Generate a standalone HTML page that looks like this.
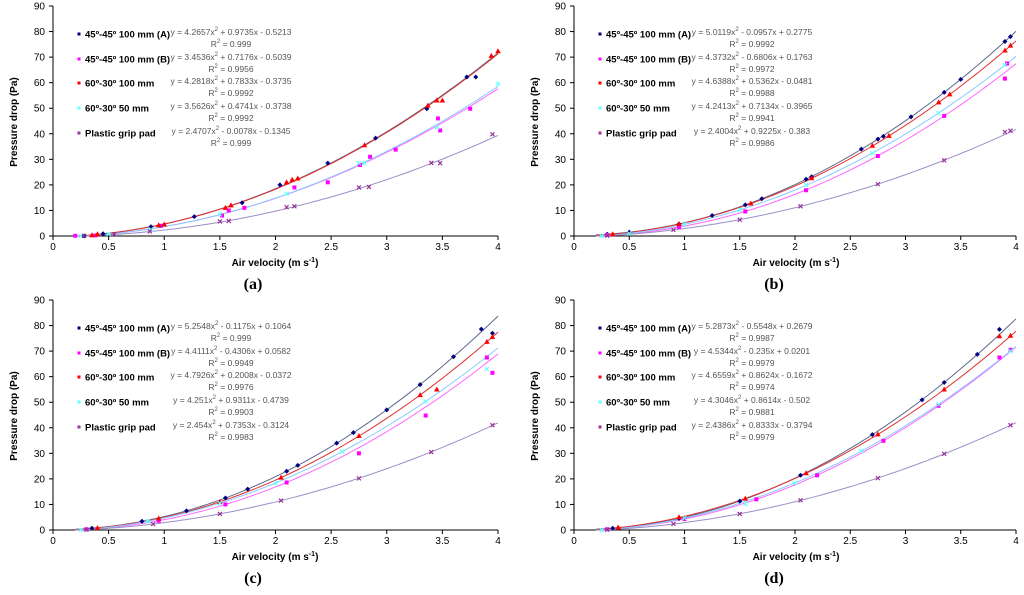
<!DOCTYPE html>
<html><head><meta charset="utf-8"><style>
body{margin:0;background:#fff;width:1024px;height:590px;overflow:hidden}
svg text{font-family:"Liberation Sans",Arial,sans-serif}
</style></head><body>
<svg id="c" width="1024" height="590" xmlns="http://www.w3.org/2000/svg"></svg>
<script>
const seriesNames=["45º-45º 100 mm (A)","45º-45º 100 mm (B)","60º-30º 100 mm","60º-30º 50 mm","Plastic grip pad"];
const xTicks=[0,0.5,1,1.5,2,2.5,3,3.5,4];
const yTicks=[0,10,20,30,40,50,60,70,80,90];
const captions=["(a)","(b)","(c)","(d)"];
const coefA=[[4.2657,0.9735,-0.5213],[3.4536,0.7176,-0.5039],[4.2818,0.7833,-0.3735],[3.5626,0.4741,-0.3738],[2.4707,-0.0078,-0.1345]];
const coefB=[[5.0119,-0.0957,0.2775],[4.3732,-0.6806,0.1763],[4.6388,0.5362,-0.0481],[4.2413,0.7134,-0.3965],[2.4004,0.9225,-0.383]];
const coefC=[[5.2548,-0.1175,0.1064],[4.4111,-0.4306,0.0582],[4.7926,0.2008,-0.0372],[4.251,0.9311,-0.4739],[2.454,0.7353,-0.3124]];
const coefD=[[5.2873,-0.5548,0.2679],[4.5344,-0.235,0.0201],[4.6559,0.8624,-0.1672],[4.3046,0.8614,-0.502],[2.4386,0.8333,-0.3794]];
const r2A=["0.999","0.9956","0.9992","0.9992","0.999"];
const r2B=["0.9992","0.9972","0.9988","0.9941","0.9986"];
const r2C=["0.999","0.9949","0.9976","0.9903","0.9983"];
const r2D=["0.9987","0.9979","0.9974","0.9881","0.9979"];
const aX=[[0.28,0.45,0.88,1.27,1.7,2.04,2.47,2.9,3.36,3.72,3.8],[0.2,0.38,0.97,1.52,1.58,1.72,2.17,2.47,2.76,2.85,3.08,3.46,3.48,3.75],[0.35,0.4,0.95,1.0,1.55,1.6,2.1,2.15,2.2,2.8,3.37,3.45,3.5,3.94,4.0],[0.25,0.5,0.88,1.5,2.1,2.75,2.8,3.45,4.0],[0.28,0.55,0.87,1.5,1.58,2.1,2.17,2.75,2.84,3.4,3.48,3.95]];
const aY=[[0,0.9,3.6,7.6,13,20,28.5,38.3,49.8,62.2,62.2],[0.1,0.2,4,8,10,11,19,21,27.8,31,33.8,46,41.3,49.8],[0.3,0.7,4.2,4.5,11,12,21,22,22.5,35.5,51,53,53,70.5,72.3],[0,0.8,2.5,8.5,16.5,28.5,28.5,42.5,59.5],[0.1,0.7,1.8,5.7,5.9,11.3,11.6,19,19.2,28.6,28.5,39.8]];
const bX=[[0.3,0.5,0.95,1.25,1.55,1.7,2.1,2.15,2.6,2.75,2.8,3.05,3.35,3.5,3.9,3.95],[0.3,0.95,1.55,2.1,2.75,3.35,3.9,3.92],[0.35,0.95,1.6,2.15,2.7,2.85,3.3,3.4,3.9,3.95],[0.25,0.5,1.0,1.5,2.1,2.7,3.3,3.9],[0.3,0.9,1.5,2.05,2.75,3.35,3.9,3.95]];
const bY=[[0.7,1.5,4.7,8,12.2,14.6,22.2,23.2,34,37.9,39,46.6,56.2,61.3,76.1,78],[0.4,3.5,9.6,17.9,31.3,47,61.6,67.5],[0.7,4.7,12.7,22.6,35.3,39.2,52.3,55.4,72.6,74.5],[0,1,4.6,10.2,20,32.4,48.1,66.9],[0.1,2.4,6.4,11.6,20.3,29.6,40.7,41.2]];
const cX=[[0.35,0.8,1.2,1.55,1.75,2.1,2.2,2.55,2.7,3.0,3.3,3.6,3.85,3.95],[0.3,0.95,1.55,2.1,2.75,3.35,3.9,3.95],[0.4,0.95,1.5,2.05,2.75,3.3,3.45,3.9,3.95],[0.25,0.85,1.5,2.0,2.6,3.35,3.9],[0.3,0.9,1.5,2.05,2.75,3.4,3.95]];
const cY=[[0.7,3.4,7.5,12.5,16,23,25.3,34,38.1,47,56.9,67.8,78.6,77],[0.3,3.6,10,18.6,30,44.8,67.5,61.5],[0.8,4.5,11,20.5,36.8,52.8,55,73.6,75.5],[0,3.4,10.5,18.4,30.7,50.3,63],[0.1,2.3,6.3,11.5,20.2,30.5,41]];
const dX=[[0.35,0.95,1.5,2.05,2.7,3.15,3.35,3.65,3.85],[0.3,1.0,1.65,2.2,2.8,3.3,3.85,3.95],[0.4,0.95,1.55,2.1,2.75,3.35,3.85,3.95],[0.25,1.0,1.55,2.0,2.6,3.3,3.95],[0.3,0.9,1.5,2.05,2.75,3.35,3.95]];
const dY=[[0.7,4.5,11.3,21.4,37.3,50.9,57.7,68.7,78.5],[0.3,4.3,12,21.4,34.9,48.6,67.5,70.5],[1,5,12.3,22.2,37.4,55,75.8,76],[0,4.7,10.2,18.4,31,49.2,70],[0.1,2.4,6.3,11.6,20.3,29.8,41]];

const panels=[
 {ox:0,oy:0,x0:53,y0:236,coef:coefA,r2:r2A,X:aX,Y:aY},
 {ox:521,oy:0,x0:574,y0:236,coef:coefB,r2:r2B,X:bX,Y:bY},
 {ox:0,oy:294,x0:53,y0:530,coef:coefC,r2:r2C,X:cX,Y:cY},
 {ox:521,oy:294,x0:574,y0:530,coef:coefD,r2:r2D,X:dX,Y:dY}];
const markColors=["#000080","#ff00ff","#ff0000","#66ffff","#993399"];
const lineColors=["#5a6a8a","#ff66ff","#e03030","#88ccff","#9b8fc8"];
const NS="http://www.w3.org/2000/svg";
const svg=document.getElementById('c');
function el(t,a,p){const e=document.createElementNS(NS,t);for(const k in a)e.setAttribute(k,a[k]);(p||svg).appendChild(e);return e;}
function fmt(v){return (Math.abs(v)).toString();}
panels.forEach((P,pi)=>{
 const g=el('g',{});
 
 
 const W=(P.ox?1016:498)-P.x0, H=P.y0-(P.oy+6);
 const sx=v=>P.x0+v/4*W, sy=v=>P.y0-v/90*H;
 const ax=el('path',{d:`M${P.x0},${P.oy+6}V${P.y0}H${sx(4)}`,stroke:'#000',fill:'none','stroke-width':1},g);
 
 
 yTicks.forEach(t=>{el('line',{x1:P.x0-4,x2:P.x0,y1:sy(t),y2:sy(t),stroke:'#000'},g);
  const tx=el('text',{x:P.x0-8,y:sy(t)+3.5,'font-size':10,'text-anchor':'end'},g);tx.textContent=t;
  
  });
 xTicks.forEach(t=>{el('line',{x1:sx(t),x2:sx(t),y1:P.y0,y2:P.y0+4,stroke:'#000'},g);
  const tx=el('text',{x:sx(t),y:P.y0+14,'font-size':10,'text-anchor':'middle'},g);tx.textContent=t;
  
  });
 const yt=el('text',{transform:`translate(${P.ox+17},${P.oy+122}) rotate(-90)`,'font-size':10,'font-weight':'bold','text-anchor':'middle'},g);
 yt.textContent='Pressure drop (Pa)';
 
 
 const xt=el('text',{x:P.x0+222,y:P.oy+266,'font-size':10,'font-weight':'bold','text-anchor':'middle'},g);
 xt.innerHTML='Air velocity (m s<tspan dy="-4" font-size="7">-1</tspan><tspan dy="4">)</tspan>';
 
 
 const cp=el('text',{x:P.x0+200,y:P.oy+289,'font-size':16,'font-weight':'bold','text-anchor':'middle',style:'font-family:"Liberation Serif",serif'},g);
 cp.textContent=captions[pi];
 
 
 P.coef.forEach((c,si)=>{let d='';for(let i=0;i<=80;i++){const x=0.2+i*(3.8/80);let y=c[0]*x*x+c[1]*x+c[2];y=Math.max(y,0);d+=(i?'L':'M')+sx(x).toFixed(1)+','+sy(y).toFixed(1);}
  const l=el('path',{d,stroke:lineColors[si],fill:'none','stroke-width':1},g);
  
  });
 P.X.forEach((xs,si)=>{xs.forEach((x,k)=>{const px=sx(x),py=sy(P.Y[si][k]);const col=markColors[si];let m;
  if(si==0)m=el('path',{d:`M${px},${py-2.5}L${px+2.5},${py}L${px},${py+2.5}L${px-2.5},${py}Z`,fill:col},g);
  else if(si==1)m=el('rect',{x:px-2,y:py-2,width:4,height:4,fill:col},g);
  else if(si==2)m=el('path',{d:`M${px},${py-3}L${px+2.8},${py+2}L${px-2.8},${py+2}Z`,fill:col},g);
  else m=el('path',{d:`M${px-2},${py-2}L${px+2},${py+2}M${px+2},${py-2}L${px-2},${py+2}`,stroke:col,'stroke-width':1.2},g);
  
  });});
 const rows=[34,59,83,108,133];
 seriesNames.forEach((n,si)=>{const ry=P.oy+rows[si];const lx=P.x0+26;
  const mk=el('rect',{x:lx-1.5,y:ry-1.5,width:3,height:3,fill:markColors[si]},g);
  
  
  const t=el('text',{x:lx+6,y:ry+3.5,'font-size':9.5,'font-weight':'bold'},g);
  t.textContent=n;
  
  
  const c=P.coef[si];
  const eq=el('text',{x:P.x0+178,y:ry+1,'font-size':8.5,fill:'#555','text-anchor':'middle'},g);
  eq.innerHTML=`y = ${c[0]}x<tspan dy="-4" font-size="6">2</tspan><tspan dy="4"> ${c[1]<0?'-':'+'} ${fmt(c[1])}x ${c[2]<0?'-':'+'} ${fmt(c[2])}</tspan>`;
  
  
  const r=el('text',{x:P.x0+178,y:ry+13,'font-size':8.5,fill:'#555','text-anchor':'middle'},g);
  r.innerHTML=`R<tspan dy="-4" font-size="6">2</tspan><tspan dy="4"> = ${P.r2[si]}</tspan>`;
  
  });
});
</script>
</body></html>
